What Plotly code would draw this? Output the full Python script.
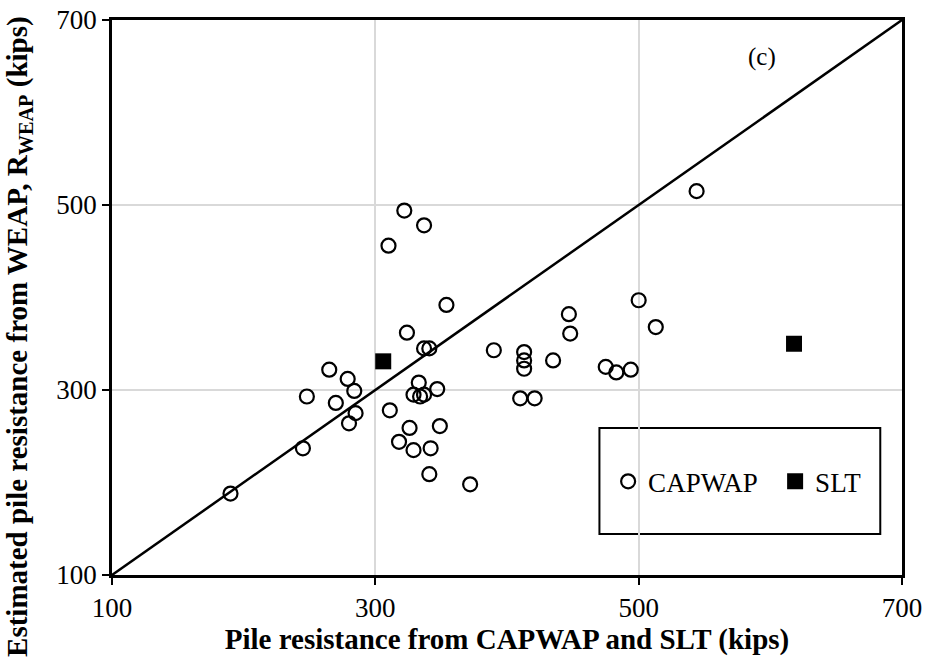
import plotly.graph_objects as go

# CAPWAP comparisons: x = CAPWAP resistance, y = WEAP estimate (kips)
capwap_x = [190, 245, 248, 265, 270, 279, 280, 284, 285, 311, 310, 318, 322, 324,
            326, 329, 329, 333, 334, 337, 337, 337, 341, 341, 342, 347, 349, 354,
            372, 390, 410, 413, 413, 413, 421, 435, 447, 448, 475, 483, 494, 500,
            513, 544]
capwap_y = [188, 237, 293, 322, 286, 312, 264, 299, 275, 278, 456, 244, 494, 362,
            259, 235, 295, 308, 293, 295, 478, 345, 345, 209, 237, 301, 261, 392,
            198, 343, 291, 341, 332, 323, 291, 332, 382, 361, 325, 319, 322, 397,
            368, 515]

# Static load test comparisons
slt_x = [306, 618]
slt_y = [331, 350]

# 1:1 reference line
line_x = [100, 700]
line_y = [100, 700]

tick_vals = [100, 300, 500, 700]

FONT = "Liberation Serif"

fig = go.Figure()

fig.add_trace(go.Scatter(
    x=line_x, y=line_y, mode="lines",
    line=dict(color="black", width=2.5),
    showlegend=False, hoverinfo="skip",
))

fig.add_trace(go.Scatter(
    x=capwap_x, y=capwap_y, mode="markers", name="CAPWAP",
    marker=dict(symbol="circle-open", size=14, color="black",
                line=dict(color="black", width=2.2)),
))

fig.add_trace(go.Scatter(
    x=slt_x, y=slt_y, mode="markers", name="SLT",
    marker=dict(symbol="square", size=16, color="black",
                line=dict(color="black", width=0)),
))

axis_common = dict(
    range=[100, 700], tickvals=tick_vals, ticktext=[str(v) for v in tick_vals],
    showgrid=True, gridcolor="#d9d9d9", gridwidth=1.5,
    showline=True, linecolor="black", linewidth=2.5, mirror=True,
    ticks="outside", ticklen=7, tickwidth=2, tickcolor="black",
    tickfont=dict(family=FONT, size=27, color="black"),
    zeroline=False,
)

fig.update_xaxes(
    **axis_common,
    title=dict(text="<b>Pile resistance from CAPWAP and SLT (kips)</b>",
               font=dict(family=FONT, size=29, color="black"), standoff=0),
)
fig.update_yaxes(**axis_common)

# Vertical axis title, placed as a rotated annotation
fig.add_annotation(
    xref="paper", yref="paper", x=-0.117, y=0.43,
    xanchor="center", yanchor="middle", textangle=-90, showarrow=False,
    text="<b>Estimated pile resistance from WEAP, R<sub>WEAP</sub> (kips)</b>",
    font=dict(family=FONT, size=29, color="black"),
)

# Legend frame
fig.add_shape(type="rect", xref="paper", yref="paper",
              x0=0.617, x1=0.9725, y0=0.074, y1=0.265,
              line=dict(color="black", width=2), fillcolor="white", layer="below")

fig.add_annotation(x=594, y=660, text="(c)", showarrow=False,
                   font=dict(family=FONT, size=25, color="black"))

fig.update_layout(
    width=928, height=660,
    margin=dict(l=112, r=26, t=20, b=85, autoexpand=False),
    paper_bgcolor="white", plot_bgcolor="rgba(0,0,0,0)",
    font=dict(family=FONT, color="black"),
    legend=dict(
        orientation="h", x=0.628, y=0.168, xanchor="left", yanchor="middle",
        bgcolor="rgba(0,0,0,0)", borderwidth=0,
        font=dict(family=FONT, size=27, color="black"),
        entrywidth=122, entrywidthmode="pixels", itemwidth=30,
    ),
)

fig.write_html("out.html")
